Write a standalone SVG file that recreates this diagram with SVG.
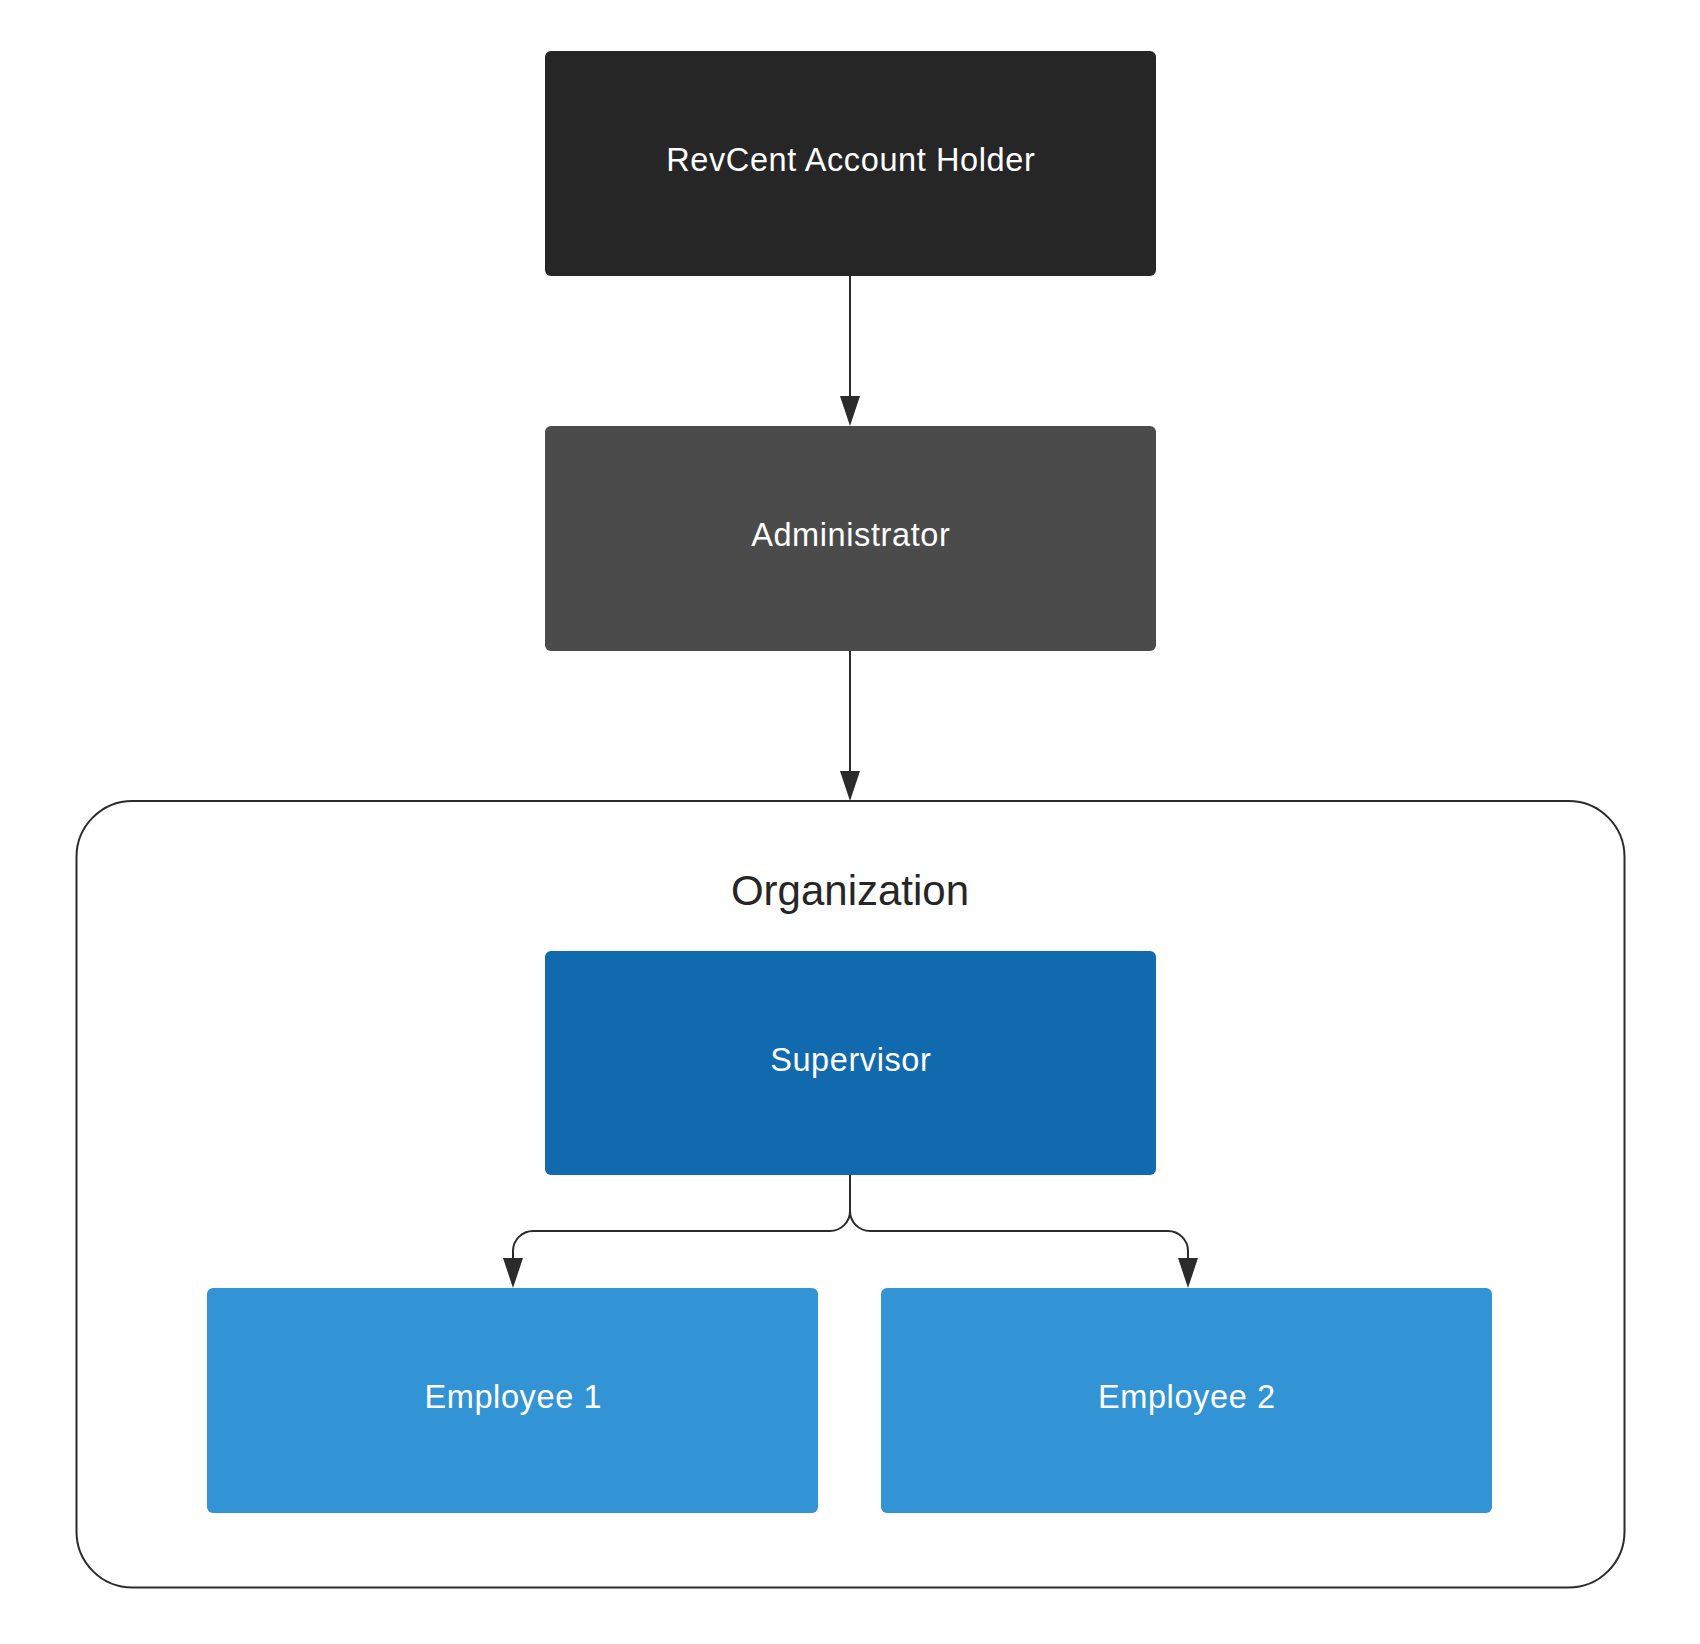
<svg xmlns="http://www.w3.org/2000/svg" width="1700" height="1644" viewBox="0 0 1700 1644">
<style>
.lbl{font-family:"Liberation Sans",Arial,sans-serif;font-size:32.5px;letter-spacing:0.6px;fill:#ffffff;text-anchor:middle}
.title{font-family:"Liberation Sans",Arial,sans-serif;font-size:42px;fill:#262626;text-anchor:middle}
.conn{fill:none;stroke:#2b2b2b;stroke-width:2}
</style>
<defs>
<marker id="arr" viewBox="0 0 30 20" refX="0" refY="10" markerWidth="30" markerHeight="20" markerUnits="userSpaceOnUse" orient="auto">
<path d="M0,0 L30,10 L0,20 z" fill="#2b2b2b"/>
</marker>
</defs>
<rect width="1700" height="1644" fill="#ffffff"/>
<g id="organization">
<rect x="76.5" y="801" width="1548" height="786.5" rx="56" ry="56" fill="none" stroke="#2b2b2b" stroke-width="2"/>
<text class="title" x="850" y="905">Organization</text>
</g>
<g id="connectors">
<path class="conn" d="M850,276 V396" marker-end="url(#arr)"/>
<path class="conn" d="M850,651 V771" marker-end="url(#arr)"/>
<path class="conn" d="M850,1175 V1211 A20,20 0 0 1 830,1231 H533 A20,20 0 0 0 513,1251 V1258" marker-end="url(#arr)"/>
<path class="conn" d="M850,1175 V1211 A20,20 0 0 0 870,1231 H1168 A20,20 0 0 1 1188,1251 V1258" marker-end="url(#arr)"/>
</g>
<g id="revcent">
<rect x="545" y="51" width="611" height="225" rx="6" fill="#262626"/>
<text class="lbl" x="850.8" y="171">RevCent Account Holder</text>
</g>
<g id="administrator">
<rect x="545" y="426" width="611" height="225" rx="6" fill="#4b4b4b"/>
<text class="lbl" x="850.8" y="545.5">Administrator</text>
</g>
<g id="supervisor">
<rect x="545" y="951" width="611" height="224" rx="6" fill="#1169ae"/>
<text class="lbl" x="850.8" y="1071">Supervisor</text>
</g>
<g id="employee1">
<rect x="207" y="1288" width="611" height="225" rx="6" fill="#3294d5"/>
<text class="lbl" x="513.3" y="1407.5">Employee 1</text>
</g>
<g id="employee2">
<rect x="881" y="1288" width="611" height="225" rx="6" fill="#3294d5"/>
<text class="lbl" x="1186.8" y="1407.5">Employee 2</text>
</g>
</svg>
